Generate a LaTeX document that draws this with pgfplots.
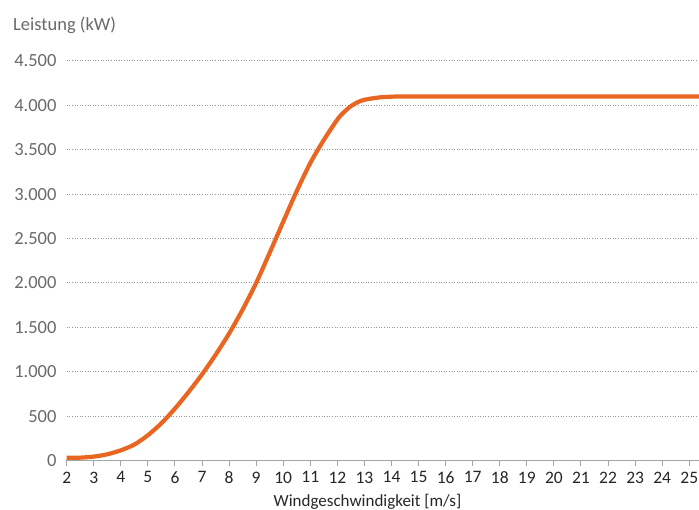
\documentclass[border=0pt]{standalone}
\usepackage{fontspec}
\setmainfont{Carlito}
\usepackage{pgfplots}
\pgfplotsset{compat=1.18}
\definecolor{lineorange}{RGB}{232,102,33}
\definecolor{txtgray}{RGB}{105,105,105}
\definecolor{gridgray}{RGB}{150,150,150}
\definecolor{axgray}{RGB}{165,165,165}
\begin{document}
\begin{tikzpicture}[x=1pt,y=1pt]
\useasboundingbox (0,0) rectangle (699,510);
\begin{axis}[
  at={(66.7pt,49.5pt)}, anchor=south west,
  scale only axis, width=632.3pt, height=399.6pt,
  xmin=2, xmax=25.36, ymin=0, ymax=4500,
  axis x line*=bottom, axis y line*=left,
  y axis line style={draw=none},
  x axis line style={axgray, line width=1.6pt},
  xtick={2,...,25}, ytick={0,500,...,4500},
  ymajorgrids,
  grid style={gridgray, line width=0.8pt, dash pattern=on 1pt off 1.6pt},
  tick align=outside, major tick length=6pt,
  xtick style={axgray, line width=1pt},
  ytick style={draw=none},
  xticklabel style={font=\fontsize{17.5}{20}\selectfont, text=black!85, inner sep=0pt, anchor=north, yshift=-5pt},
  yticklabel style={font=\fontsize{18.5}{21}\selectfont, text=txtgray, inner sep=0pt, anchor=east, xshift=-4pt},
  /pgf/number format/.cd, assume math mode=true, 1000 sep={.},
]
\addplot[lineorange, line width=4.2pt, smooth] coordinates {
(2,30) (2.5,32) (3,44) (3.5,70) (4,115) (4.5,180) (5,285) (5.5,420) (6,585) (6.5,770) (7,970)
(7.5,1190) (8,1430) (8.5,1700) (9,2000) (9.5,2340) (10,2690) (10.5,3035) (11,3350)
(11.5,3610) (12,3840) (12.25,3925) (12.5,3990) (12.75,4035) (13,4062) (13.5,4087) (14,4097) (14.5,4100) (15,4100)
(20,4100) (25.36,4100)
};
\end{axis}
\node[anchor=base west, text=txtgray, font=\fontsize{18.5}{21}\selectfont, inner sep=0pt] at (13,479.3) {Leistung (kW)};
\node[anchor=base, text=black!85, font=\fontsize{17}{20}\selectfont, inner sep=0pt] at (367.5,3.5) {Windgeschwindigkeit [m/s]};
\end{tikzpicture}
\end{document}
